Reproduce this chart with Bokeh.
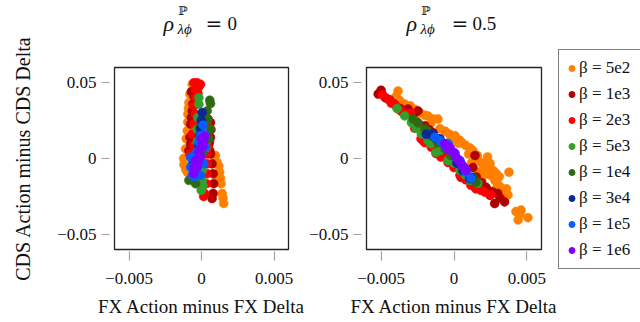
import numpy as np
from bokeh.plotting import figure
from bokeh.models import Label, Legend, LegendItem, FixedTicker, Range1d
from bokeh.layouts import row, column
from bokeh.embed import file_html
from bokeh.resources import INLINE

FONT = "Liberation Serif"

labels = ["β = 5e2", "β = 1e3", "β = 2e3", "β = 5e3", "β = 1e4", "β = 3e4", "β = 1e5", "β = 1e6"]
colors = ["#ff8000", "#b00000", "#ff0000", "#33a02c", "#2e6a12", "#0a2896", "#0a5cff", "#8000ff"]

x_ticks = [-0.005, 0, 0.005]
x_tick_labels = ["\u22120.005", "0", "0.005"]
y_ticks = [-0.05, 0, 0.05]
y_tick_labels = ["\u22120.05", "0", "0.05"]

# ---- panel rho = 0 (FX in units of 1e-3, CDS in units of 1e-2) ----
r0_x_5e2 = [-0.64, -0.5, -0.8, -0.87, -0.94, -0.9, -0.95, -0.98, -1.05, -1.1, -1.23, -1.21, -1.1, -0.98, 0.96, 1.07, 1.25, 1.3, 1.35, 1.42, 1.48, 1.53, 1.2, 1.1]
r0_y_5e2 = [4.89, 4.7, 4.23, 3.68, 2.92, 3.3, 2.4, 1.83, 1.3, 0.63, 0.0, -0.4, -0.7, -0.9, 0.2, -0.24, -0.9, -1.3, -1.66, -2.31, -2.6, -2.96, -0.5, -1.2]
r0_x_1e3 = [-0.53, -0.7, -0.6, -0.64, -0.7, -0.75, -0.8, -0.87, -0.75, 0.62, 0.62, 0.57, 0.62, 0.73, 0.8, 0.84, 0.8, 0.73, 0.65, 0.5, 0.55]
r0_y_1e3 = [4.12, 4.4, 3.6, 3.14, 2.7, 2.27, 1.39, 0.52, 0.96, 2.37, 1.39, 0.52, 0.3, -0.35, -1.0, -1.66, -2.31, -2.64, 1.9, 0.9, 1.1]
r0_x_2e3 = [-0.53, -0.3, -0.07, -0.41, -0.2, -0.41, -0.53, -0.41, -0.53, -0.64, -0.53, -0.64, -0.8, 0.39, 0.39, 0.43, 0.34, 0.39, 0.39, 0.34, 0.21, 0.15, 0.45, -0.25]
r0_y_2e3 = [4.99, 4.99, 4.89, 4.56, 4.7, 4.01, 3.47, 2.92, 2.27, 1.61, 0.85, 0.2, 0.3, 2.27, 1.5, 0.74, 0.3, -0.35, -1.0, -1.66, -2.31, -2.5, 2.6, 4.3]
r0_x_5e3 = [-0.18, -0.18, -0.25, -0.3, -0.3, 0.39, 0.3, 0.05, 0.05, -0.02, 0.0, 0.1]
r0_y_5e3 = [4.01, 3.58, 2.7, 1.94, 1.07, 1.18, 0.7, -0.78, -1.44, -2.09, -0.3, -1.8]
r0_x_1e4 = [0.57, 0.62, 0.39, 0.45, 0.62, 0.5, -0.87, -0.64, -0.41, -0.3, -0.1, 0.1]
r0_y_1e4 = [3.84, 3.62, 3.14, 2.6, 1.94, 1.3, -1.44, -1.33, -1.66, -1.0, 2.1, 0.4]
r0_x_3e4 = [0.05, -0.02, -0.07, -0.12, -0.2, -0.53, -0.6, -0.35]
r0_y_3e4 = [3.03, 2.53, 1.94, 1.5, 0.9, -0.78, -0.3, 0.2]
r0_x_1e5 = [0.11, -0.07, -0.18, -0.34, -0.75, -0.75, -0.64, -0.07, 0.16, 0.27, 0.2, -0.45]
r0_y_1e5 = [2.2, 1.5, 1.07, 0.41, 0.09, -0.57, -1.11, -1.11, -0.35, 0.74, 1.6, -1.2]
r0_x_1e6 = [0.23, 0.05, -0.12, 0.05, -0.18, -0.41, -0.53, -0.53, -0.3, -0.07, 0.15, 0.0, -0.25]
r0_y_1e6 = [1.46, 0.74, 0.2, 0.85, 0.41, -0.13, -0.57, -1.0, -0.57, 0.09, 1.1, 1.3, -0.3]

# ---- panel rho = 0.5 ----
r5_x_5e2 = [-3.84, -3.97, -3.7, -3.4, -3.0, -2.7, -2.33, -2.0, -1.78, -1.4, -1.1, -0.96, -0.6, -0.3, 0.07, 0.4, 0.82, 1.1, 1.3, 1.6, 1.85, 2.2, 2.47, 2.2, 2.5, 2.8, 3.0, 3.2, 3.77, 3.7, 3.4, 4.25, 4.6, 4.4, 5.07, 4.5, 1.5, 1.0, 2.0, 2.7, 0.6, 1.9, 2.9, -1.6, -2.6,
            1.7, 2.5, 3.1, 2.9, 3.3, 3.6, 2.3, 1.2, 0.3, -0.2]
r5_y_5e2 = [4.45, 4.1, 3.8, 3.6, 3.47, 3.25, 3.0, 2.85, 2.8, 2.6, 2.6, 1.96, 1.8, 1.6, 1.5, 1.2, 0.85, 0.7, 0.52, 0.2, -0.26, -0.4, -0.33, -1.0, -1.1, -1.44, -1.7, -1.9, -0.9, -2.4, -2.2, -3.5, -3.4, -4.05, -3.9, -3.7, 0.0, 0.3, -0.7, -0.8, 1.0, -1.4, -1.0, 2.3, 2.9,
            -0.9, -0.7, -1.2, -2.0, -2.5, -2.0, 0.1, -0.3, 1.0, 1.2]
r5_x_1e3 = [-5.0, -5.2, -4.7, -4.4, -4.1, -3.7, -3.15, -2.47, -2.0, -1.44, -1.1, 1.44, 1.3, 0.48, 1.53, 1.9, 2.1, 2.55, 2.2, 2.67, 3.15, 3.47, 2.79, 2.47, 3.0, -1.7, -2.8]
r5_y_1e3 = [4.5, 4.25, 4.0, 3.85, 3.6, 3.3, 3.27, 3.14, 2.16, 1.7, 1.3, 0.2, -0.59, -1.24, -1.22, -1.6, -2.09, -2.2, -1.9, -2.22, -2.6, -2.86, -2.97, -2.42, -2.3, 1.9, 2.9]
r5_x_2e3 = [-4.9, -4.5, -4.3, -4.0, -3.84, -3.36, -2.95, -2.47, -2.26, -2.12, -2.0, -1.55, -1.32, -1.23, -0.62, -0.41, 0.0, 0.41, 0.8, 1.16, 1.5, 1.85, 2.12, 2.53, -3.6, -2.7, -1.9, -0.9]
r5_y_2e3 = [4.2, 3.9, 3.66, 3.5, 3.27, 2.9, 3.0, 2.35, 1.3, 1.18, 1.05, 0.74, 0.85, 0.33, 0.2, -0.26, -0.6, -1.1, -1.4, -1.77, -2.0, -2.1, -2.22, -2.4, 3.1, 2.0, 1.6, 0.1]
r5_x_5e3 = [-3.9, -3.38, -2.92, -2.24, -1.78, -1.58, -1.23, -0.96, -0.41, -0.27, 0.41, 1.1, 1.64, 0.0, 0.8, -2.6]
r5_y_5e3 = [3.3, 2.81, 2.37, 1.61, 1.18, 0.98, 0.4, 0.52, -0.13, -0.13, -0.78, -1.44, -1.63, -0.3, -1.1, 2.0]
r5_x_1e4 = [-2.47, -2.0, -1.58, -1.1, -0.62, -0.2, 0.4, 0.82, 1.3, 1.5, -2.8, -1.8]
r5_y_1e4 = [2.35, 1.96, 1.5, 1.05, 0.65, 0.2, -0.4, -0.78, -1.24, -1.57, 2.6, 1.8]
r5_x_3e4 = [-1.9, -1.44, -1.3, -0.96, -0.62, 1.07, 1.2, 0.6, 0.2]
r5_y_3e4 = [1.6, 1.63, 1.37, 1.3, 0.98, -1.33, -1.25, -0.8, -0.3]
r5_x_1e5 = [-1.3, -0.96, -0.9, -0.55, -0.41, 0.0, 0.41, 0.82, 1.16, 0.6]
r5_y_1e5 = [1.4, 1.18, 1.1, 0.72, 0.98, 0.4, -0.13, -0.9, -1.3, -0.5]
r5_x_1e6 = [-0.64, -0.55, -0.27, -0.2, 0.07, 0.14, 0.3, 0.48, 0.6, 0.75, 0.84, -0.4]
r5_y_1e6 = [0.96, 0.85, 0.72, 0.52, 0.33, 0.07, -0.1, -0.33, -0.5, -0.65, -0.78, 0.6]

panel0 = [(r0_x_5e2, r0_y_5e2), (r0_x_1e3, r0_y_1e3), (r0_x_2e3, r0_y_2e3), (r0_x_5e3, r0_y_5e3),
          (r0_x_1e4, r0_y_1e4), (r0_x_3e4, r0_y_3e4), (r0_x_1e5, r0_y_1e5), (r0_x_1e6, r0_y_1e6)]
panel5 = [(r5_x_5e2, r5_y_5e2), (r5_x_1e3, r5_y_1e3), (r5_x_2e3, r5_y_2e3), (r5_x_5e3, r5_y_5e3),
          (r5_x_1e4, r5_y_1e4), (r5_x_3e4, r5_y_3e4), (r5_x_1e5, r5_y_1e5), (r5_x_1e6, r5_y_1e6)]

TITLE_H = 62
TXT = "#111111"
MSIZE = 9


def blank(width, height, xr=(0, 1), yr=(0, 1), **kw):
    f = figure(width=width, height=height, x_range=Range1d(*xr), y_range=Range1d(*yr),
               x_axis_location=None, y_axis_location=None,
               output_backend="svg", toolbar_location=None, **kw)
    f.grid.visible = False
    f.outline_line_color = None
    return f


def make_title(b_left, frame_w, b_right, x_rho, x_eq, x_num, num):
    t = blank(b_left + frame_w + b_right, TITLE_H, frame_width=frame_w, frame_height=TITLE_H,
              min_border_left=b_left, min_border_right=b_right, min_border_top=0, min_border_bottom=0)
    common = dict(x_units="screen", y_units="screen", text_color=TXT, text_baseline="alphabetic")
    t.add_layout(Label(x=x_rho, y=39, text="ρ", text_font=FONT, text_font_size="22px",
                       text_font_style="italic", **common))
    t.add_layout(Label(x=x_rho + 15, y=52, text="ℙ", text_font="DejaVu Serif", text_font_size="12px", **common))
    t.add_layout(Label(x=x_rho + 14, y=34, text="λϕ", text_font=FONT, text_font_size="15px",
                       text_font_style="italic", **common))
    t.add_layout(Label(x=x_eq, y=39, text="=", text_font="DejaVu Serif", text_font_size="20px", **common))
    t.add_layout(Label(x=x_num, y=39, text=num, text_font=FONT, text_font_size="19px", **common))
    return t


def make_fig(b_left, frame_w, b_right):
    p = figure(width=b_left + frame_w + b_right, height=182 + 78,
               frame_width=frame_w, frame_height=182,
               min_border_left=b_left, min_border_right=b_right,
               min_border_top=5, min_border_bottom=73,
               x_range=Range1d(-0.006, 0.006), y_range=Range1d(-0.06, 0.06),
               output_backend="svg", toolbar_location=None)
    p.grid.visible = False
    p.outline_line_color = "#222222"
    p.outline_line_width = 1.3
    p.xaxis.ticker = FixedTicker(ticks=x_ticks)
    p.yaxis.ticker = FixedTicker(ticks=y_ticks)
    p.xaxis.major_label_overrides = dict(zip(x_ticks, x_tick_labels))
    p.yaxis.major_label_overrides = dict(zip(y_ticks, y_tick_labels))
    for ax in (p.xaxis, p.yaxis):
        ax.axis_line_color = None
        ax.minor_tick_line_color = None
        ax.major_tick_line_color = "#a0a0a0"
        ax.major_tick_line_width = 1.2
        ax.major_label_text_font = FONT
        ax.major_label_text_font_size = "17px"
        ax.major_label_text_color = TXT
        ax.axis_label_text_font = FONT
        ax.axis_label_text_font_size = "19px"
        ax.axis_label_text_font_style = "normal"
        ax.axis_label_text_color = TXT
    p.xaxis.major_tick_in = -2
    p.xaxis.major_tick_out = 11
    p.yaxis.major_tick_in = -5
    p.yaxis.major_tick_out = 13
    p.xaxis.major_label_standoff = 12
    p.yaxis.major_label_standoff = 5
    p.xaxis.axis_label = "FX Action minus FX Delta"
    p.xaxis.axis_label_standoff = 9
    return p


# y-axis title of the left panel, in its own strip so that it can reach above the frame
ylab = blank(40, 322, min_border=0)
ylab.add_layout(Label(x=22, y=164, x_units="screen", y_units="screen", text="CDS Action minus CDS Delta",
                      angle=np.pi / 2, text_align="center", text_baseline="middle",
                      text_font=FONT, text_font_size="20px", text_color=TXT))

t1 = make_title(74, 174, 18, 49, 91, 113, "0")
p1 = make_fig(74, 174, 18)
for (xs, ys), c in zip(panel0, colors):
    p1.scatter(np.array(xs) * 1e-3, np.array(ys) * 1e-2, size=MSIZE, marker="circle",
               fill_color=c, line_color=c, line_width=0.5)

t2 = make_title(57, 175, 16, 40, 85, 106, "0.5")
p2 = make_fig(57, 175, 16)
for (xs, ys), c in zip(panel5, colors):
    p2.scatter(np.array(xs) * 1e-3, np.array(ys) * 1e-2, size=MSIZE, marker="circle",
               fill_color=c, line_color=c, line_width=0.5)

# legend strip: its renderers carry the same series, but its ranges keep them out of view
leg = blank(86, 322, xr=(10, 11), yr=(10, 11), min_border=0)
items = []
for (xs, ys), c, lab in zip(panel5, colors, labels):
    r = leg.scatter(np.array(xs) * 1e-3, np.array(ys) * 1e-2, size=MSIZE, marker="circle",
                    fill_color=c, line_color=c)
    items.append(LegendItem(label=lab, renderers=[r]))
legend = Legend(items=items, location=(1, 53), orientation="vertical")
legend.border_line_color = "black"
legend.border_line_width = 1
legend.background_fill_color = "white"
legend.background_fill_alpha = 1
legend.label_text_font = FONT
legend.label_text_font_size = "17px"
legend.label_text_color = TXT
legend.glyph_width = 15
legend.glyph_height = 26
legend.label_height = 26
legend.label_width = 57
legend.label_standoff = 0
legend.spacing = 0
legend.padding = 5
legend.margin = 0
leg.add_layout(legend)

layout = row(ylab, column(t1, p1), column(t2, p2), leg)
open("out.html", "w").write(file_html(layout, INLINE))
